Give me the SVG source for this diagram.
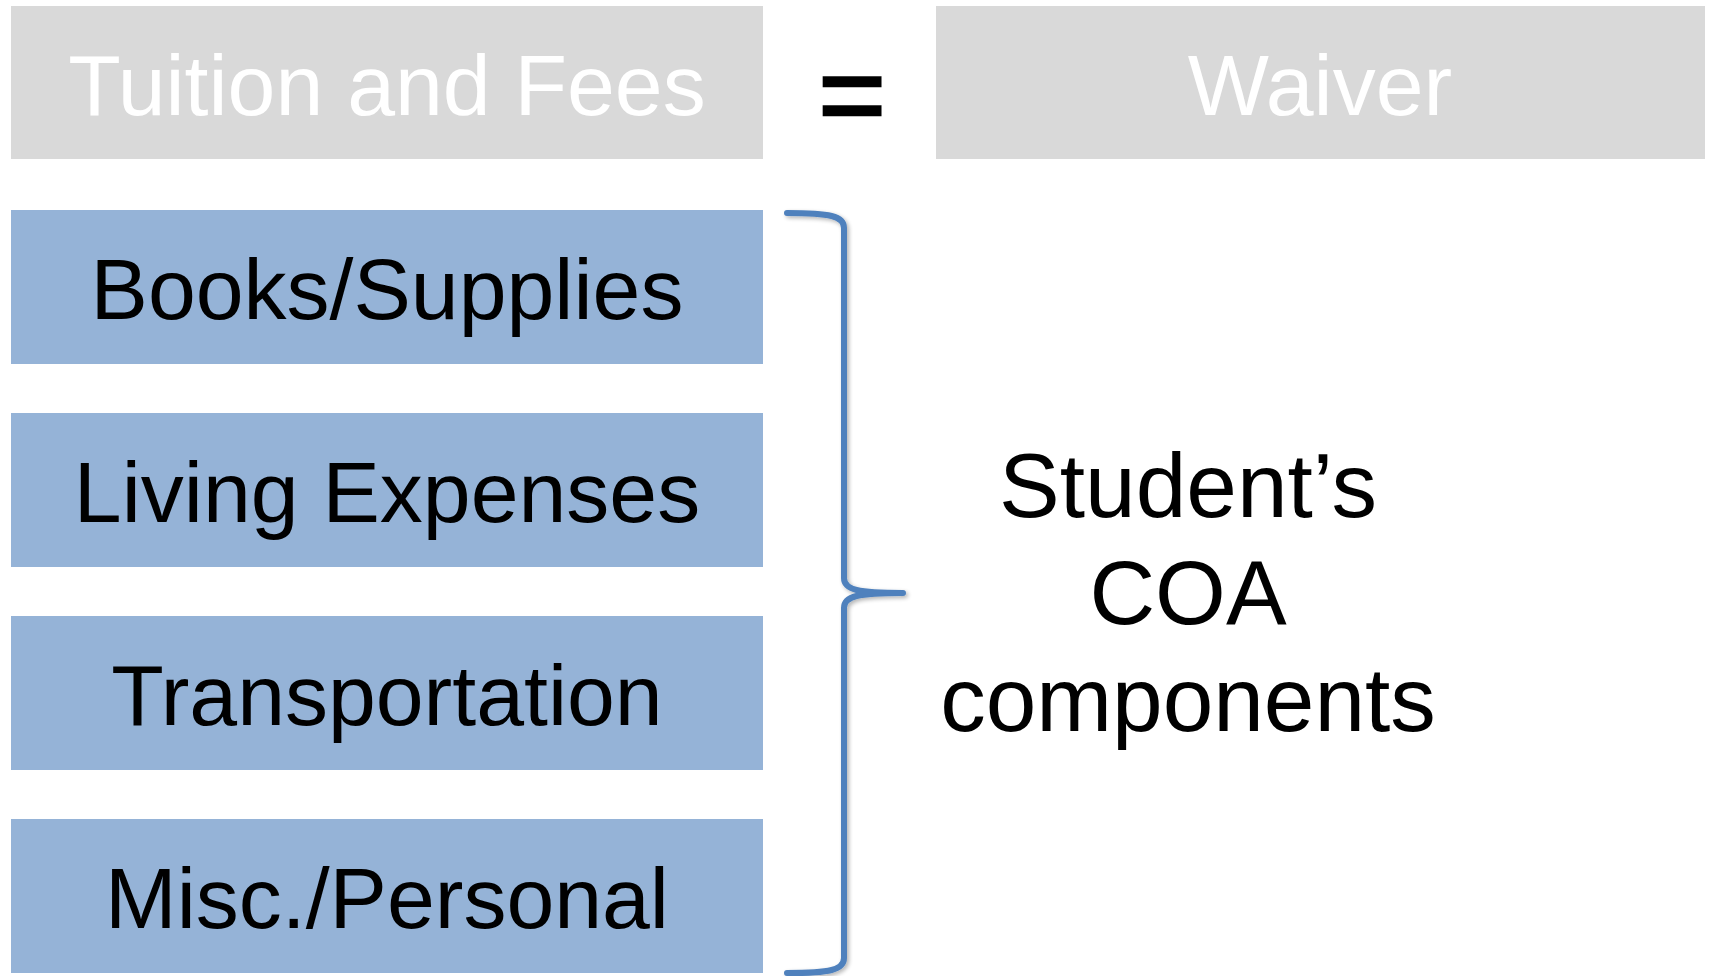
<svg xmlns="http://www.w3.org/2000/svg" width="1710" height="976" viewBox="0 0 1710 976">
<style>
.gray{fill:#D9D9D9}
.blue{fill:#95B3D7}
.lbl{font-family:"Liberation Sans",Arial,sans-serif;font-size:86px;text-anchor:middle}
.coa{font-size:91px}
.w{fill:#FFFFFF}
.k{fill:#000000}
.brace{fill:none;stroke:#4F81BD;stroke-width:6;stroke-linecap:round;stroke-linejoin:round}
</style>
<defs>
<filter id="sh" x="-20%" y="-5%" width="140%" height="110%">
<feGaussianBlur in="SourceAlpha" stdDeviation="2"/>
<feOffset dx="2" dy="2" result="b"/>
<feComponentTransfer><feFuncA type="linear" slope="0.3"/></feComponentTransfer>
<feMerge><feMergeNode/><feMergeNode in="SourceGraphic"/></feMerge>
</filter>
</defs>
<rect width="1710" height="976" fill="#FFFFFF"/>
<g id="tuition">
<rect class="gray" x="11" y="6" width="752" height="153"/>
<text class="lbl w" x="387" y="115">Tuition and Fees</text>
</g>
<g id="equals">
<text x="852" y="135" font-family="Liberation Sans,Arial,sans-serif" font-size="116" text-anchor="middle" fill="#000000" stroke="#000000" stroke-width="2.5">=</text>
</g>
<g id="waiver">
<rect class="gray" x="936" y="6" width="769" height="153"/>
<text class="lbl w" x="1320" y="115">Waiver</text>
</g>
<g id="books">
<rect class="blue" x="11" y="210" width="752" height="154"/>
<text class="lbl k" x="387" y="319">Books/Supplies</text>
</g>
<g id="living">
<rect class="blue" x="11" y="413" width="752" height="154"/>
<text class="lbl k" x="387" y="522">Living Expenses</text>
</g>
<g id="transport">
<rect class="blue" x="11" y="616" width="752" height="154"/>
<text class="lbl k" x="387" y="725">Transportation</text>
</g>
<g id="misc">
<rect class="blue" x="11" y="819" width="752" height="154"/>
<text class="lbl k" x="387" y="928">Misc./Personal</text>
</g>
<g id="connectors">
<path class="brace" filter="url(#sh)" d="M787,213 C830,213 844,216 844,228 L844,578 C844,590 858,593 903,593 C858,593 844,596 844,608 L844,958 C844,970 830,973 787,973"/>
</g>
<g id="coa">
<text class="lbl k coa" x="1188" y="517">Student’s</text>
<text class="lbl k coa" x="1188" y="624">COA</text>
<text class="lbl k coa" x="1188" y="731">components</text>
</g>
</svg>
